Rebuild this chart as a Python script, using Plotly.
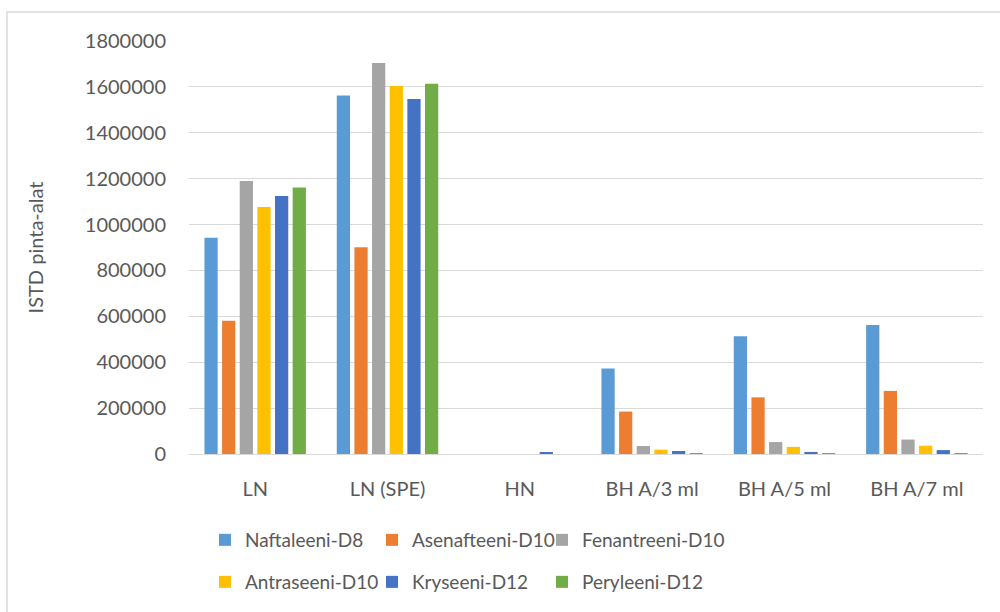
import plotly.graph_objects as go

categories = ["LN", "LN (SPE)", "HN", "BH A/3 ml", "BH A/5 ml", "BH A/7 ml"]

naftaleeni = [943000, 1563000, 0, 373000, 513000, 562000]
asenafteeni = [581000, 901000, 0, 185000, 247000, 275000]
fenantreeni = [1190000, 1704000, 0, 35000, 52000, 63000]
antraseeni = [1076000, 1604000, 0, 19000, 31000, 36000]
kryseeni = [1124000, 1547000, 4500, 13000, 9000, 17000]
peryleeni = [1162000, 1614000, 0, 3000, 2000, 3000]

series_names = ["Naftaleeni-D8", "Asenafteeni-D10", "Fenantreeni-D10",
                "Antraseeni-D10", "Kryseeni-D12", "Peryleeni-D12"]
series_values = [naftaleeni, asenafteeni, fenantreeni, antraseeni, kryseeni, peryleeni]
colors = ["#5B9BD5", "#ED7D31", "#A5A5A5", "#FFC000", "#4472C4", "#70AD47"]

y_ticks = [0, 200000, 400000, 600000, 800000, 1000000, 1200000, 1400000, 1600000, 1800000]

FONT = "Lato"
TEXT = "#595959"

# plot area geometry (pixels)
L, R, T, B = 189, 17, 41, 158
PW, PH = 1000 - L - R, 612 - T - B

# legend grid: 3 columns x 2 rows, one legend box per entry
legend_cols_px = [205, 372, 542]
legend_rows_px = [540, 582]

fig = go.Figure()
layout_legends = {}
for i, (name, vals, col) in enumerate(zip(series_names, series_values, colors)):
    key = "legend" if i == 0 else f"legend{i + 1}"
    fig.add_trace(go.Bar(
        x=categories, y=vals, name=name,
        marker=dict(color=col, line=dict(width=0)),
        legend=key,
    ))
    layout_legends[key] = dict(
        x=(legend_cols_px[i % 3] - L) / PW,
        y=-(legend_rows_px[i // 3] - (612 - B)) / PH,
        xanchor="left", yanchor="middle",
        font=dict(family=FONT, size=19, color=TEXT),
        bgcolor="rgba(0,0,0,0)",
    )

fig.update_layout(
    width=1000, height=612,
    margin=dict(l=L, r=R, t=T, b=B, autoexpand=False),
    paper_bgcolor="white", plot_bgcolor="white",
    barmode="group", bargap=0.2, bargroupgap=0.25,
    font=dict(family=FONT, size=20, color=TEXT),
    showlegend=True,
    xaxis=dict(
        showgrid=False, showline=False, ticks="",
        tickfont=dict(family=FONT, size=20, color=TEXT),
        ticklabelstandoff=21,
    ),
    yaxis=dict(
        range=[0, 1800000], tickvals=y_ticks, tickformat="d",
        showgrid=True, gridcolor="#D9D9D9", gridwidth=1,
        zeroline=True, zerolinecolor="#D9D9D9", zerolinewidth=1,
        showline=False, ticks="",
        tickfont=dict(family=FONT, size=20, color=TEXT),
        ticklabelstandoff=22,
        title=dict(text="ISTD pinta-alat", font=dict(family=FONT, size=20, color=TEXT), standoff=35),
    ),
    shapes=[dict(
        type="rect", xref="paper", yref="paper",
        x0=(7 - L) / PW, x1=1.1, y0=-0.6, y1=(454 - 12) / PH,
        line=dict(color="#D9D9D9", width=1.5), fillcolor="rgba(0,0,0,0)", layer="below",
    )],
    **layout_legends,
)

fig.write_html("out.html")
